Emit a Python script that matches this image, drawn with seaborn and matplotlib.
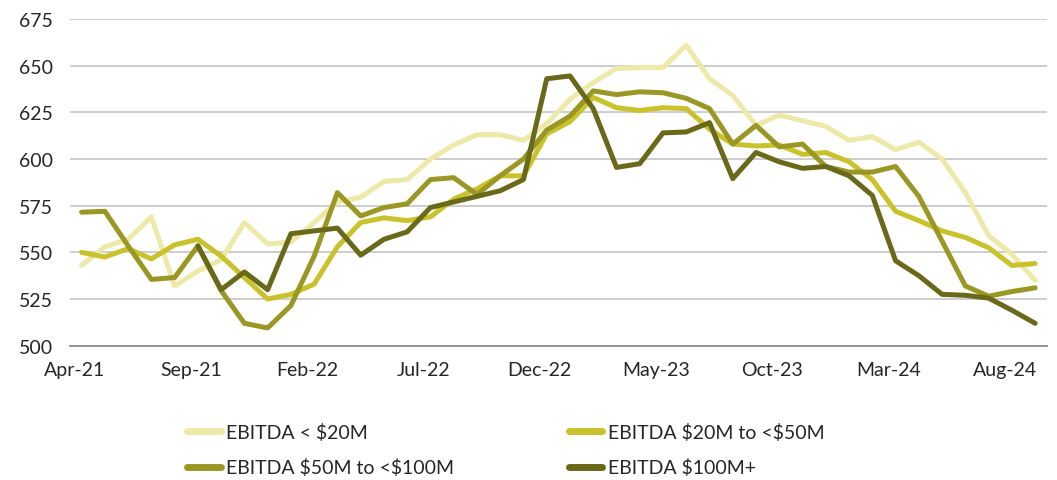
import numpy as np
import pandas as pd
import seaborn as sns
import matplotlib.pyplot as plt
from matplotlib.ticker import FixedLocator

########## Data (monthly Apr-21 .. Sep-24)

months = list(pd.date_range("2021-04-01", periods = 42, freq = "MS").strftime("%b-%y"))

ebitda_lt20 = [543, 553, 557, 569, 532, 540, 546, 566, 554.5, 555.5, 566, 577, 579.5, 588,
               589, 600, 607.5, 613, 613, 610, 619, 632, 641, 648.5, 649, 649, 661, 643,
               634, 618, 623.5, 620.5, 617.5, 610, 612, 605, 609, 600, 582, 559, 549, 535]
ebitda_20_50 = [550, 547.5, 552, 546.5, 554, 557, 548, 536.5, 525, 527.5, 533, 553, 566, 568.5,
                567, 569, 578.5, 584, 591, 591, 613.5, 620, 633, 627.5, 626, 627.5, 627, 616,
                608, 607, 607.5, 602.5, 603.5, 598.5, 589, 572, 567, 561.5, 558, 552.5, 543, 544]
ebitda_50_100 = [571.5, 572, 553.5, 535.5, 536.5, 553.5, 529.5, 512, 509.5, 521.5, 548, 582, 569.5, 574,
                 576, 589, 590, 581, 591, 600, 615.5, 623, 636.5, 634.5, 636, 635.5, 632.5, 627,
                 608, 618, 606.5, 608, 596, 593, 593, 596, 580, 556, 532, 526.5, 529, 531]
ebitda_100p = [np.nan] * 5 + [553.5, 530, 539.5, 530, 560, 561.5, 563, 548.5, 557, 561, 574, 577,
                              580, 583, 589, 643, 644.5, 627, 595.5, 597.5, 614, 614.5, 619.5,
                              589.5, 603.5, 598.5, 595, 596, 591, 580.5, 545.5, 537.5, 527.5,
                              527, 525.5, 519, 512]

series_names = ["EBITDA < $20M", "EBITDA $20M to <$50M", "EBITDA $50M to <$100M", "EBITDA $100M+"]
colors       = ["#ECE9A9", "#C9C22B", "#9B9725", "#6A6819"]
tick_labels  = ["Apr-21", "Sep-21", "Feb-22", "Jul-22", "Dec-22", "May-23", "Oct-23", "Mar-24", "Aug-24"]
y_ticks      = [500, 525, 550, 575, 600, 625, 650, 675]

df = pd.DataFrame({"idx": range(len(months)), "month": months,
                   series_names[0]: ebitda_lt20, series_names[1]: ebitda_20_50,
                   series_names[2]: ebitda_50_100, series_names[3]: ebitda_100p})
df_long = df.melt(id_vars = ["idx", "month"], var_name = "Series", value_name = "Value").dropna()

########## Plot

sns.set_style("white")
plt.rcParams["font.family"] = ["Lato", "DejaVu Sans"]
plt.rcParams["text.parse_math"] = False   # keep the $ signs literal

fig, ax = plt.subplots(figsize = (10.57, 4.81), dpi = 100)
fig.subplots_adjust(left = 0.0662, right = 0.9903, top = 0.9584, bottom = 0.2792)

sns.lineplot(data = df_long, x = "idx", y = "Value", hue = "Series", hue_order = series_names,
             palette = colors, linewidth = 3.6, ax = ax, legend = False, sort = False,
             solid_capstyle = "round", solid_joinstyle = "round")

ax.set_xlim(-0.5, len(months) - 0.5)
ax.set_ylim(500, 675)
ax.set_yticks(y_ticks)
ax.set_yticklabels([str(v) for v in y_ticks], fontsize = 14)
ax.grid(axis = "y", color = "#C0C0C0", linewidth = 1.1)
ax.set_axisbelow(True)

# labels near the start of every fifth month, tick marks between categories
ax.set_xticks([5 * k - 0.3 for k in range(len(tick_labels))])
ax.set_xticklabels(tick_labels, fontsize = 14)
ax.xaxis.set_minor_locator(FixedLocator([5 * k - 0.5 for k in range(len(tick_labels))]))
ax.tick_params(axis = "x", which = "major", length = 0, pad = 11)
ax.tick_params(axis = "x", which = "minor", length = 6, color = "#8C8C8C", width = 1.3, direction = "out")
ax.tick_params(axis = "y", length = 0, pad = 12)
ax.set_xlabel("")
ax.set_ylabel("")

for side in ["top", "right", "left"]:
    ax.spines[side].set_visible(False)
ax.spines["bottom"].set_color("#8C8C8C")
ax.spines["bottom"].set_linewidth(1.3)

# legend fills column-wise, so order handles to get the reference's row layout
order   = [0, 2, 1, 3]
handles = [plt.Line2D([], [], color = colors[i], linewidth = 5, solid_capstyle = "round") for i in order]
labels  = [series_names[i] for i in order]
fig.legend(handles, labels, loc = "upper left", bbox_to_anchor = (0.170, 0.135),
           ncol = 2, frameon = False, fontsize = 14, handlelength = 1.7, handletextpad = 0.3,
           columnspacing = 5.9, labelspacing = 0.9, borderaxespad = 0)

plt.savefig("out.png", dpi = 100)
